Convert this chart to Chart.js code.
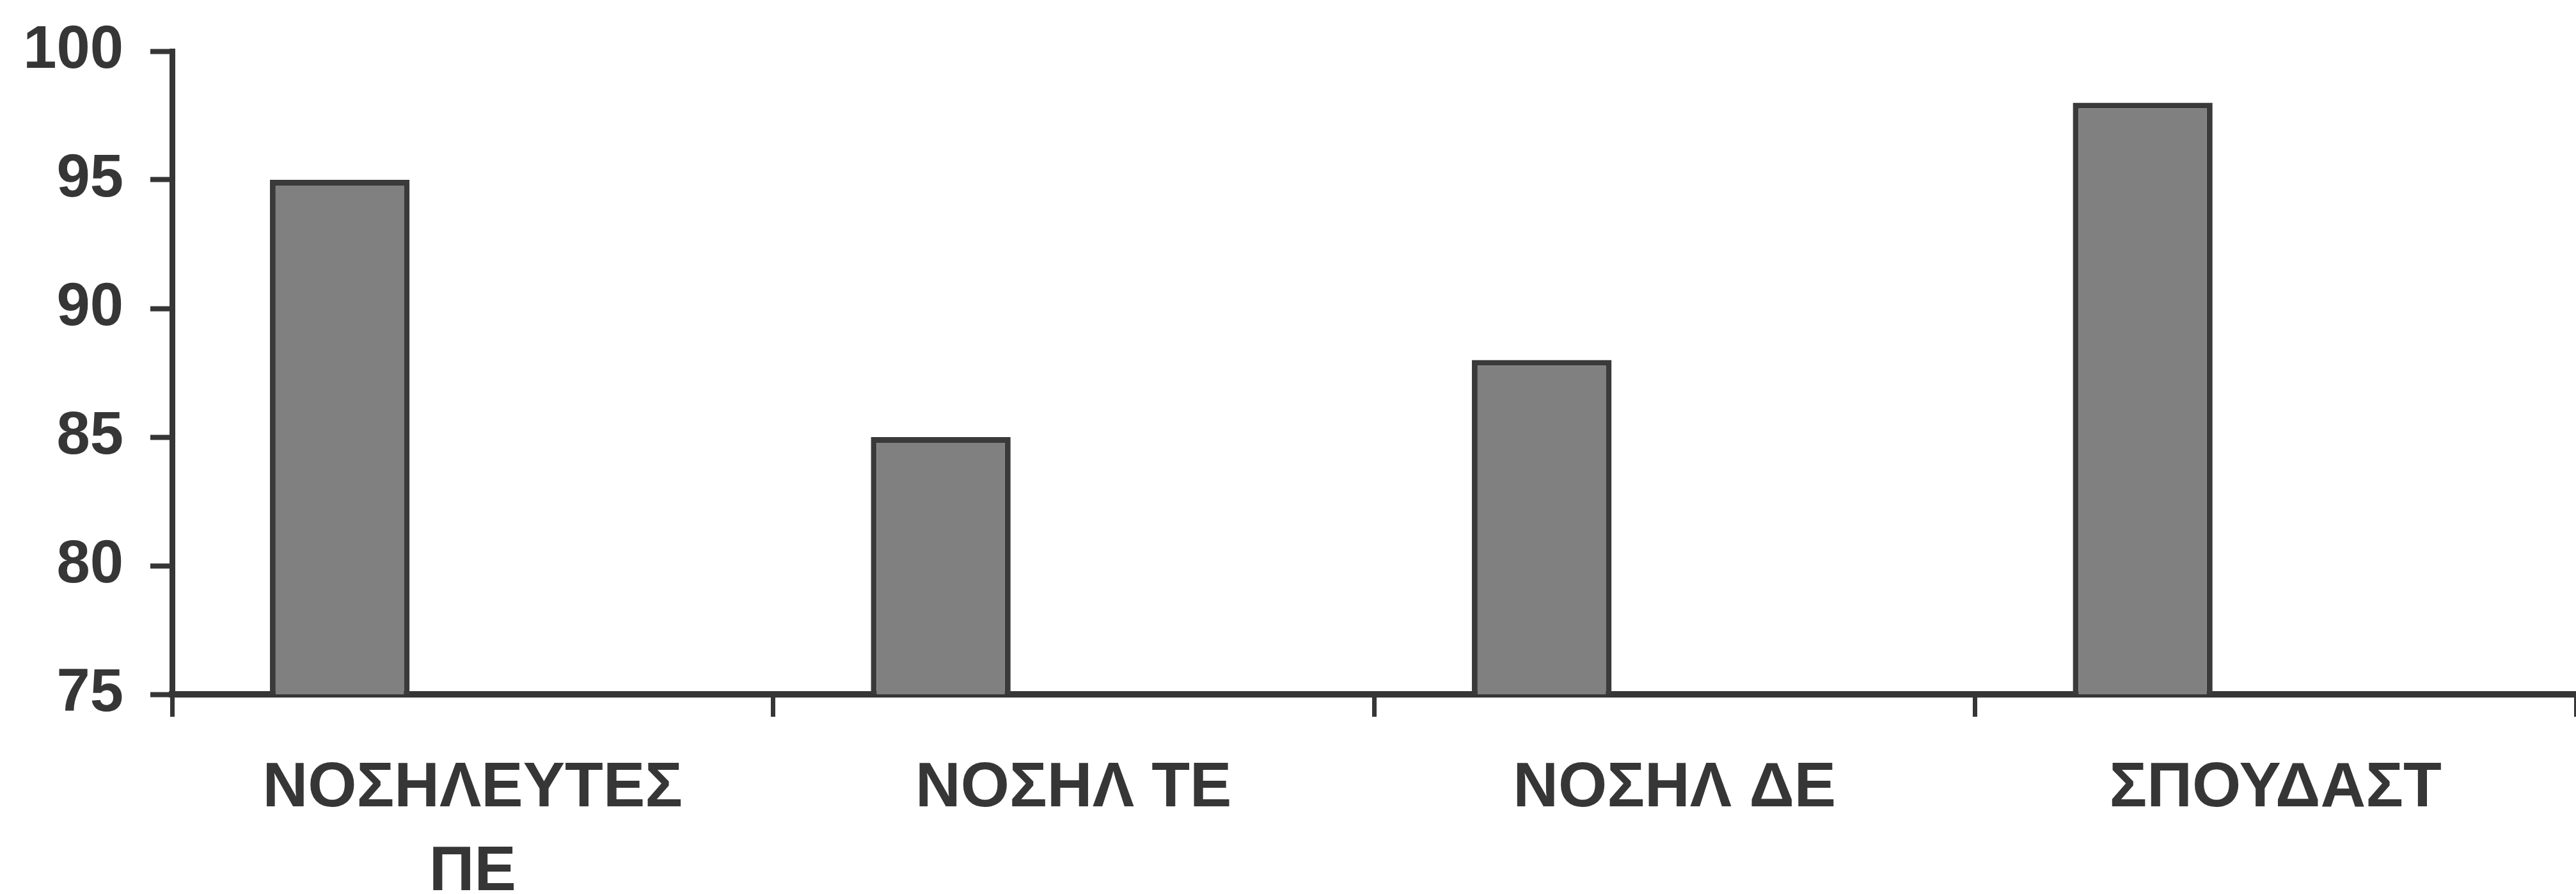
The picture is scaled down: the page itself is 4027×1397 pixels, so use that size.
<!DOCTYPE html>
<html>
<head>
<meta charset="utf-8">
<script src="https://cdn.jsdelivr.net/npm/chart.js@4/dist/chart.umd.min.js"></script>
<style>
  html, body { margin: 0; padding: 0; background: #fff; }
  #wrap { width: 4027px; height: 1397px; }
</style>
</head>
<body>
<div id="wrap"><canvas id="barChart" width="4027" height="1397"></canvas></div>
<script>
// categories and values
const categories = [['ΝΟΣΗΛΕΥΤΕΣ', 'ΠΕ'], 'ΝΟΣΗΛ ΤΕ', 'ΝΟΣΗΛ ΔΕ', 'ΣΠΟΥΔΑΣΤ'];
const values = [95, 85, 88, 98];
// second series of the original sheet, nothing visible above 75
const secondSeries = [null, null, null, null];
const yTicks = [75, 80, 85, 90, 95, 100];

const ink = '#363636';
let chart;

function initChart() {
    const ctx = document.getElementById('barChart').getContext('2d');
    chart = new Chart(ctx, {
        type: 'bar',
        data: {
            labels: categories,
            datasets: [{
                label: 'Σειρά 1',
                data: values,
                backgroundColor: '#808080',
                borderColor: '#3a3a3a',
                borderWidth: 9,
                categoryPercentage: 0.884,
                barPercentage: 0.526
            }, {
                label: 'Σειρά 2',
                data: secondSeries,
                backgroundColor: '#808080',
                categoryPercentage: 0.884,
                barPercentage: 0.526
            }]
        },
        options: {
            responsive: false,
            animation: false,
            layout: { padding: 0 },
            plugins: {
                legend: { display: false },
                tooltip: { enabled: false }
            },
            scales: {
                x: {
                    offset: true,
                    grid: {
                        offset: true,
                        drawOnChartArea: false,
                        tickLength: 35,
                        tickWidth: 7,
                        tickColor: ink
                    },
                    border: { display: true, color: ink, width: 10 },
                    ticks: {
                        color: ink,
                        padding: 48,
                        maxRotation: 0,
                        autoSkip: false,
                        font: { family: 'Liberation Sans, Arial, sans-serif', size: 98, weight: 'bold', lineHeight: 1.33 }
                    },
                    afterFit: scale => { scale.height = 312; }
                },
                y: {
                    min: yTicks[0],
                    max: yTicks[yTicks.length - 1],
                    afterBuildTicks: scale => { scale.ticks = yTicks.map(v => ({ value: v })); },
                    grid: {
                        drawOnChartArea: false,
                        tickLength: 34,
                        tickWidth: 8,
                        tickColor: ink
                    },
                    border: { display: true, color: ink, width: 9 },
                    ticks: {
                        color: ink,
                        padding: 42,
                        font: { family: 'Liberation Sans, Arial, sans-serif', size: 94, weight: 'bold', lineHeight: 1.2 }
                    },
                    afterFit: scale => {
                        scale.width = 269;
                        scale.paddingTop = 80;
                    }
                }
            }
        }
    });
}

initChart();
</script>
</body>
</html>
